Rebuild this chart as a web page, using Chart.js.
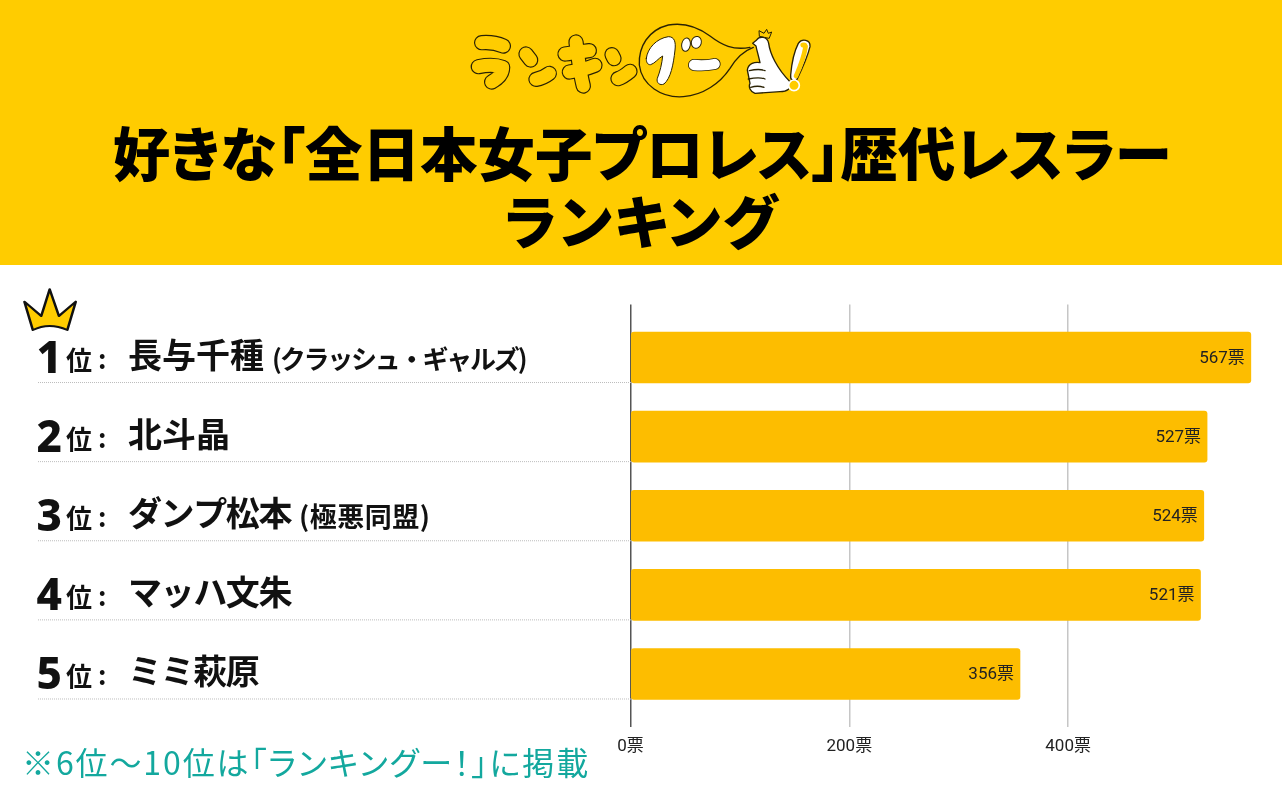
<!DOCTYPE html>
<html lang="ja">
<head>
<meta charset="utf-8">
<script src="https://cdn.jsdelivr.net/npm/chart.js@4/dist/chart.umd.min.js"></script>
<style>
html,body{margin:0;padding:0;width:1282px;height:800px;overflow:hidden;background:#fff;font-family:"Noto Sans CJK JP",sans-serif}
#banner{position:absolute;left:0;top:0;width:1282px;height:265px;background:#FFCC00}
#title{position:absolute;left:1px;top:117px;width:1282px;margin:0;text-align:center;font-weight:900;font-size:57.5px;line-height:68px;color:#000;font-feature-settings:"palt"}
#title span{letter-spacing:2.5px}
#foot{position:absolute;left:22px;top:739px;font-size:32px;line-height:44px;color:#13A89E;white-space:nowrap;font-weight:400;font-feature-settings:"palt";letter-spacing:1.9px}
#logo{position:absolute;left:440px;top:10px;width:400px;height:100px}
#crown{position:absolute;left:0;top:280px;width:660px;height:250px}
canvas{position:absolute;left:0;top:0}
</style>
</head>
<body>
<div id="banner"></div>
<svg id="logo" viewBox="0 0 1200 300" fill="none" stroke-linecap="round" stroke-linejoin="round">
  <defs>
    <g id="kana">
      <path d="M125 98C150 96 172 100 190 108"/>
      <path d="M115 170C140 165 165 163 188 172C188 190 175 205 155 216"/>
      <path d="M258 132L272 150"/>
      <path d="M288 208C300 206 315 200 328 190"/>
      <path d="M375 132C400 128 425 125 448 122"/>
      <path d="M388 186C415 182 440 176 465 166"/>
      <path d="M408 96C414 140 420 190 430 228"/>
      <path d="M516 134L522 146"/>
      <path d="M534 206C548 202 558 194 570 184"/>
    </g>
    <path id="bar" d="M762 165C785 167 810 165 824 162"/>
  </defs>
  <use href="#kana" stroke="#2a2204" stroke-width="46"/>
  <use href="#kana" stroke="#FFCC00" stroke-width="39"/>
  <path d="M930 112C880 122 845 105 810 78C770 48 725 38 685 45C625 60 595 110 598 165C605 225 665 265 730 260C790 255 840 220 870 175C885 150 905 125 940 112" stroke="#2a2204" stroke-width="4" fill="#FFCC00"/>
  <path d="M619 145C622 115 650 85 685 80C703 80 708 95 705 120C700 165 692 205 672 222C660 228 648 218 652 205C660 185 666 160 668 138C655 145 645 160 632 164C622 165 618 155 619 145Z" stroke="#2a2204" stroke-width="3" fill="#fff"/>
  <ellipse cx="738" cy="104" rx="13" ry="20" transform="rotate(10 738 104)" stroke="#2a2204" stroke-width="3" fill="#fff"/>
  <ellipse cx="769" cy="97" rx="15" ry="18" transform="rotate(15 769 97)" stroke="#2a2204" stroke-width="3" fill="#fff"/>
  <use href="#bar" stroke="#2a2204" stroke-width="36"/>
  <use href="#bar" stroke="#fff" stroke-width="31"/>
  <path d="M958 78L957 62L972 70L980 58L985 70L995 66L988 84Z" stroke="#2a2204" stroke-width="3" fill="#FFCC00"/>
  <path d="M938 100L950 90C958 78 982 78 986 100C990 130 1010 175 1050 215C1058 235 1040 245 1020 245L945 250C930 245 925 230 930 220L922 180C925 160 945 155 960 158C955 135 950 120 948 108Z" stroke="#2a2204" stroke-width="4" fill="#fff"/>
  <path d="M928 182C945 178 965 178 975 182M925 207C945 203 965 203 975 207M932 232C945 228 960 228 972 232" stroke="#2a2204" stroke-width="4"/>
  <path d="M1075 100C1085 85 1112 88 1110 110C1100 150 1082 185 1070 210C1060 215 1050 210 1052 195C1055 160 1062 125 1075 100Z" stroke="#2a2204" stroke-width="4" fill="#fff"/>
  <path d="M1088 105C1094 103 1098 106 1096 114C1090 150 1078 175 1068 198" stroke="#FFCC00" stroke-width="14"/>
  <circle cx="1062" cy="226" r="16" stroke="#fff" stroke-width="5" fill="#FFCC00"/>
</svg>
<h1 id="title">好きな「全日本女子プロレス」歴代レスラー<br><span>ランキング</span></h1>
<canvas id="c" width="1282" height="800"></canvas>
<svg id="crown" viewBox="0 0 1568 750" preserveAspectRatio="none">
  <path d="M58 65L98 108L118 28L140 108L180 65L160 150C130 133 105 133 78 150Z" fill="#FFCC00" stroke="#111" stroke-width="6" stroke-linejoin="round"/>
</svg>
<div id="foot">※6位〜10位は「ランキングー！」に掲載</div>
<script>
const ranks = [1, 2, 3, 4, 5];
const names = ["長与千種", "北斗晶", "ダンプ松本", "マッハ文朱", "ミミ萩原"];
const groups = ["(クラッシュ・ギャルズ)", "", "(極悪同盟)", "", ""];
const votes = [567, 527, 524, 521, 356];
const tickValues = [0, 200, 400];
const unit = "票";
const rankUnit = "位";

const CJK = '"Noto Sans CJK JP"';
const KANA = /[\u30a0-\u30ff]/;
const rankLabels = {
  id: 'rankLabels',
  beforeDatasetsDraw(chart) {
    const {ctx, scales: {y}} = chart;
    ctx.save();
    ctx.textBaseline = 'alphabetic';
    ranks.forEach((r, i) => {
      const c = y.getPixelForValue(r);
      const base = c + 13;
      ctx.strokeStyle = '#bdbdbd';
      ctx.lineWidth = 1;
      ctx.setLineDash([1, 1]);
      ctx.beginPath();
      ctx.moveTo(38, c + 25);
      ctx.lineTo(631, c + 25);
      ctx.stroke();
      ctx.setLineDash([]);
      ctx.fillStyle = '#111';
      ctx.textAlign = 'right';
      ctx.font = `800 44px "Noto Sans",${CJK}`;
      ctx.fillText(String(r), 62, base + 2);
      ctx.textAlign = 'left';
      ctx.font = `700 26px ${CJK}`;
      ctx.fillText(rankUnit, 66, base - 1);
      ctx.fillText(':', 98, base - 2);
      ctx.font = `700 34px ${CJK}`;
      ctx.letterSpacing = KANA.test(names[i]) ? '-1.4px' : '0px';
      ctx.fillText(names[i], 128, base - 3);
      const w = ctx.measureText(names[i]).width;
      if (groups[i]) {
        const kana = KANA.test(groups[i]);
        ctx.font = `700 ${kana ? 26 : 27}px ${CJK}`;
        ctx.letterSpacing = kana ? '-2.2px' : '0.5px';
        ctx.fillText(groups[i], 128 + w + 8, base - 2);
      }
      ctx.letterSpacing = '0px';
    });
    ctx.restore();
  }
};
const valueLabels = {
  id: 'valueLabels',
  afterDatasetsDraw(chart) {
    const {ctx} = chart;
    const meta = chart.getDatasetMeta(0);
    ctx.save();
    ctx.fillStyle = '#222';
    ctx.font = `400 17px Roboto,${CJK}`;
    ctx.textAlign = 'right';
    ctx.textBaseline = 'middle';
    meta.data.forEach((bar, i) => ctx.fillText(votes[i] + unit, bar.x - 6, bar.y + 1));
    ctx.restore();
  }
};

new Chart(document.getElementById('c'), {
  type: 'bar',
  data: {
    datasets: [{
      data: votes.map((v, i) => ({x: v, y: ranks[i]})),
      backgroundColor: '#FDBD00',
      barThickness: 51,
      borderRadius: 3,
      borderSkipped: false
    }]
  },
  options: {
    indexAxis: 'y',
    responsive: false,
    animation: false,
    devicePixelRatio: 1,
    layout: {padding: {left: 630.5, right: 6, top: 304.5, bottom: 0}},
    plugins: {legend: {display: false}, tooltip: {enabled: false}},
    scales: {
      x: {
        type: 'linear', min: 0, max: 590,
        border: {display: false},
        grid: {
          drawTicks: false,
          lineWidth: 1.5,
          color: c => c.tick && c.tick.value === 0 ? '#555' : '#c6c6c6'
        },
        ticks: {
          maxRotation: 0, autoSkip: false, padding: 10,
          color: '#222',
          font: {family: `Roboto,${CJK}`, size: 17},
          callback: v => v + unit
        },
        afterBuildTicks(s) { s.ticks = tickValues.map(value => ({value})); },
        afterFit(s) { s.height = 73; s.paddingLeft = 0; s.paddingRight = 0; }
      },
      y: {type: 'linear', display: false, offset: false, reverse: true, min: 0.33, max: 5.67}
    }
  },
  plugins: [rankLabels, valueLabels]
});
</script>
</body>
</html>
